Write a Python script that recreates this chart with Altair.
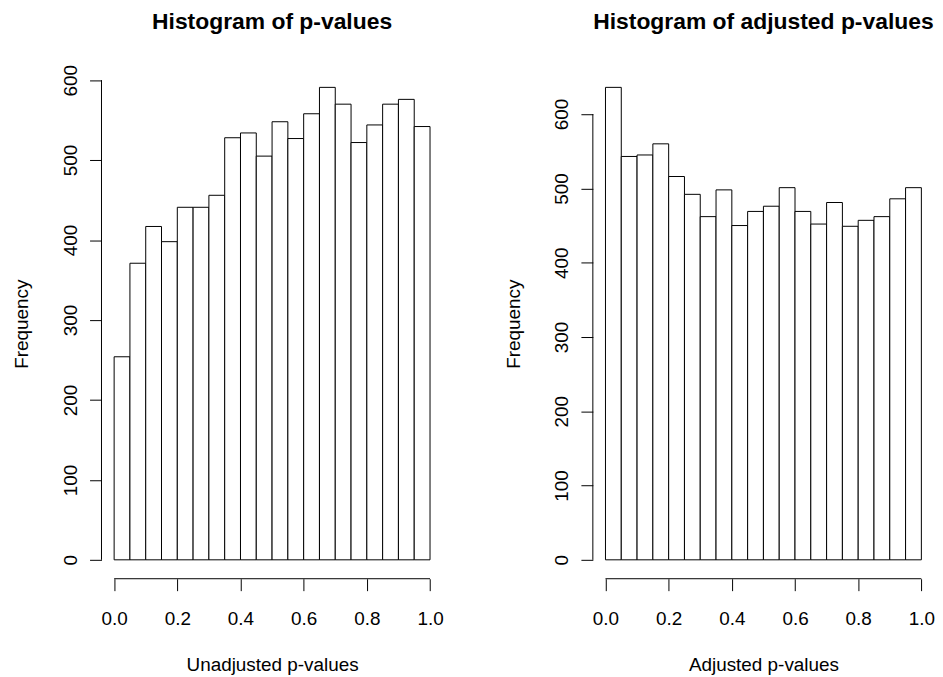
import altair as alt
import pandas as pd

# ---- data ----
bin_edges = [0.00, 0.05, 0.10, 0.15, 0.20, 0.25, 0.30, 0.35, 0.40, 0.45, 0.50,
             0.55, 0.60, 0.65, 0.70, 0.75, 0.80, 0.85, 0.90, 0.95, 1.00]
unadjusted_counts = [254, 371, 417, 398, 441, 441, 456, 528, 534, 505,
                     548, 527, 558, 591, 570, 522, 544, 570, 576, 542]
adjusted_counts = [636, 543, 545, 560, 516, 492, 462, 498, 450, 469,
                   476, 501, 469, 452, 481, 449, 457, 462, 486, 501]
x_ticks = [0.0, 0.2, 0.4, 0.6, 0.8, 1.0]
y_ticks = [0, 100, 200, 300, 400, 500, 600]
main_titles = ["Histogram of p-values", "Histogram of adjusted p-values"]
x_titles = ["Unadjusted p-values", "Adjusted p-values"]
y_title = "Frequency"

FONT = "Liberation Sans"
W, H = 343, 513


def panel(counts, main, xtitle, title_offset):
    df = pd.DataFrame({"start": bin_edges[:-1], "end": bin_edges[1:], "count": counts})
    ymax = max(counts)
    xscale = alt.Scale(domain=[-0.04, 1.04], nice=False, zero=False)
    yscale = alt.Scale(domain=[-0.04 * ymax, 1.04 * ymax], nice=False, zero=False)

    common = dict(domain=False, grid=False, ticks=True, tickSize=12, tickColor="black",
                  tickWidth=1, labelFont=FONT, labelFontSize=19, labelColor="black",
                  labelOverlap=False, labelFlush=False, titleFont=FONT, titleFontSize=19,
                  titleFontWeight="normal", titleColor="black", titleBaseline="alphabetic",
                  titleAlign="center")
    xaxis = alt.Axis(values=x_ticks, format=".1f", labelPadding=34,
                     labelBaseline="alphabetic", labelAlign="center",
                     title=xtitle, titleX=W / 2, titleY=92, **common)
    yaxis = alt.Axis(values=y_ticks, format="d", labelAngle=270, labelAlign="center",
                     labelBaseline="alphabetic", labelPadding=13,
                     title=y_title, titleAngle=270, titleX=-74, titleY=H / 2, **common)

    bars = alt.Chart(df).mark_rect(fill="white", stroke="black", strokeWidth=1).encode(
        x=alt.X("start:Q", scale=xscale, axis=xaxis),
        x2="end:Q",
        y=alt.Y("count:Q", scale=yscale, axis=yaxis),
        y2=alt.datum(0),
    )
    one = pd.DataFrame({"k": [0]})
    yline = alt.Chart(one).mark_rule(color="black", strokeWidth=1).encode(
        x=alt.value(0),
        y=alt.datum(y_ticks[0]),
        y2=alt.datum(y_ticks[-1]),
    )
    xline = alt.Chart(one).mark_rule(color="black", strokeWidth=1).encode(
        y=alt.value(H),
        x=alt.datum(x_ticks[0]),
        x2=alt.datum(x_ticks[-1]),
    )
    return alt.layer(bars, yline, xline).properties(
        width=W, height=H,
        title=alt.TitleParams(main, font=FONT, fontSize=23, fontWeight="bold",
                              color="black", anchor="middle", frame="group",
                              baseline="alphabetic", offset=title_offset),
    )


left = panel(unadjusted_counts, main_titles[0], x_titles[0], 13)
right = panel(adjusted_counts, main_titles[1], x_titles[1], 17)

chart = alt.hconcat(left, right, spacing=61).properties(
    padding={"left": 5, "top": 0, "right": 0, "bottom": 0},
    background="white",
).configure_view(stroke=None)

chart.save("out.html", embed_options={"renderer": "svg", "actions": False})
